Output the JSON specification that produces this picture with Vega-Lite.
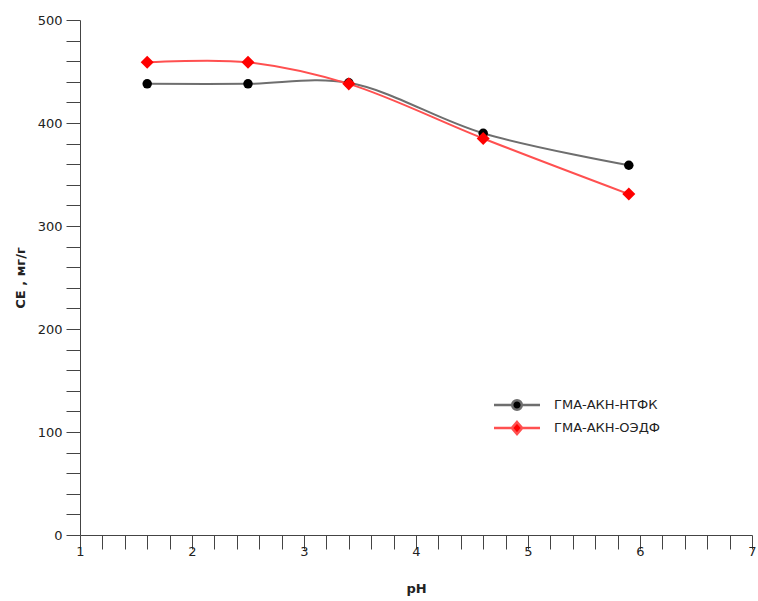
{
  "$schema": "https://vega.github.io/schema/vega-lite/v6.json",
  "width": 672,
  "height": 515,
  "autosize": {"type": "none"},
  "padding": {"left": 80, "top": 20, "right": 6, "bottom": 66},
  "background": "white",
  "config": {
    "view": {"stroke": null},
    "font": "DejaVu Sans",
    "axis": {
      "domainColor": "#444",
      "tickColor": "#444",
      "grid": false,
      "labelFont": "DejaVu Sans",
      "labelFontSize": 12,
      "labelColor": "#222",
      "titleFont": "DejaVu Sans",
      "titleFontSize": 13,
      "titleFontWeight": "bold",
      "titleColor": "#222",
      "labelOverlap": false,
      "labelFlush": false
    }
  },
  "data": {
    "values": [
      {"pH": 1.6, "CE": 438, "series": "ГМА-АКН-НТФК"},
      {"pH": 2.5, "CE": 438, "series": "ГМА-АКН-НТФК"},
      {"pH": 3.4, "CE": 439, "series": "ГМА-АКН-НТФК"},
      {"pH": 4.6, "CE": 390, "series": "ГМА-АКН-НТФК"},
      {"pH": 5.9, "CE": 359, "series": "ГМА-АКН-НТФК"},
      {"pH": 1.6, "CE": 459, "series": "ГМА-АКН-ОЭДФ"},
      {"pH": 2.5, "CE": 459, "series": "ГМА-АКН-ОЭДФ"},
      {"pH": 3.4, "CE": 438, "series": "ГМА-АКН-ОЭДФ"},
      {"pH": 4.6, "CE": 385, "series": "ГМА-АКН-ОЭДФ"},
      {"pH": 5.9, "CE": 331, "series": "ГМА-АКН-ОЭДФ"}
    ]
  },
  "encoding": {
    "x": {
      "field": "pH",
      "type": "quantitative",
      "scale": {"domain": [1, 7], "nice": false, "zero": false},
      "axis": {
        "title": "pH",
        "values": [1, 1.2, 1.4, 1.6, 1.8, 2, 2.2, 2.4, 2.6, 2.8, 3, 3.2, 3.4, 3.6, 3.8, 4, 4.2, 4.4, 4.6, 4.8, 5, 5.2, 5.4, 5.6, 5.8, 6, 6.2, 6.4, 6.6, 6.8, 7],
        "labelExpr": "abs(datum.value - round(datum.value)) < 0.001 ? format(datum.value, 'd') : ''",
        "labelFontSize": 13,
        "tickSize": 14,
        "labelPadding": -4,
        "titlePadding": 24,
        "encode": {
          "ticks": {"update": {"y2": {"signal": "abs(datum.value - round(datum.value)) < 0.001 ? 14 : 7"}}}
        }
      }
    },
    "y": {
      "field": "CE",
      "type": "quantitative",
      "scale": {"domain": [0, 500], "nice": false},
      "axis": {
        "title": "CE , мг/г",
        "values": [0, 20, 40, 60, 80, 100, 120, 140, 160, 180, 200, 220, 240, 260, 280, 300, 320, 340, 360, 380, 400, 420, 440, 460, 480, 500],
        "labelExpr": "datum.value % 100 === 0 ? datum.label : ''",
        "labelFontSize": 13,
        "tickSize": 14,
        "labelPadding": 4,
        "titlePadding": 10,
        "encode": {
          "ticks": {"update": {"x2": {"signal": "datum.value % 100 === 0 ? -14 : -7"}}}
        }
      }
    }
  },
  "layer": [
    {
      "transform": [{"filter": "datum.series === 'ГМА-АКН-НТФК'"}],
      "mark": {"type": "line", "interpolate": "catmull-rom", "strokeWidth": 2, "color": "#6e6e6e"}
    },
    {
      "transform": [{"filter": "datum.series === 'ГМА-АКН-ОЭДФ'"}],
      "mark": {"type": "line", "interpolate": "catmull-rom", "strokeWidth": 2, "color": "#ff5050"}
    },
    {
      "transform": [{"filter": "datum.series === 'ГМА-АКН-НТФК'"}],
      "mark": {"type": "point", "shape": "circle", "filled": true, "opacity": 1, "color": "#000000", "size": 90}
    },
    {
      "transform": [{"filter": "datum.series === 'ГМА-АКН-ОЭДФ'"}],
      "mark": {"type": "point", "shape": "diamond", "filled": true, "opacity": 1, "color": "#ff0000", "size": 170}
    },
    {
      "mark": {"type": "point", "filled": true, "opacity": 0, "size": 1},
      "encoding": {
        "color": {
          "field": "series",
          "type": "nominal",
          "scale": {"domain": ["ГМА-АКН-НТФК", "ГМА-АКН-ОЭДФ"], "range": ["#000000", "#ff0000"]},
          "legend": {
            "title": null,
            "orient": "none",
            "legendX": 424,
            "legendY": 372,
            "symbolSize": 529,
            "symbolOpacity": 1,
            "symbolStrokeWidth": 2.5,
            "labelFont": "DejaVu Sans",
            "labelFontSize": 13,
            "labelColor": "#222",
            "labelOffset": 24,
            "rowPadding": 0,
            "encode": {
              "symbols": {"update": {"stroke": {"signal": "datum.index === 0 ? '#6e6e6e' : '#ff5050'"}}}
            }
          }
        },
        "shape": {
          "field": "series",
          "type": "nominal",
          "scale": {
            "domain": ["ГМА-АКН-НТФК", "ГМА-АКН-ОЭДФ"],
            "range": [
              "M-2,0H-0.42M0.42,0H2M-0.42,0A0.42,0.42 0 1,0 0.42,0A0.42,0.42 0 1,0 -0.42,0Z",
              "M-2,0H-0.45M0.45,0H2M0,-0.52L0.45,0L0,0.52L-0.45,0Z"
            ]
          },
          "legend": {
            "title": null,
            "orient": "none",
            "legendX": 424,
            "legendY": 372,
            "symbolSize": 529,
            "symbolOpacity": 1,
            "symbolStrokeWidth": 2.5,
            "labelFont": "DejaVu Sans",
            "labelFontSize": 13,
            "labelColor": "#222",
            "labelOffset": 24,
            "rowPadding": 0,
            "encode": {
              "symbols": {"update": {"stroke": {"signal": "datum.index === 0 ? '#6e6e6e' : '#ff5050'"}}}
            }
          }
        }
      }
    }
  ]
}
